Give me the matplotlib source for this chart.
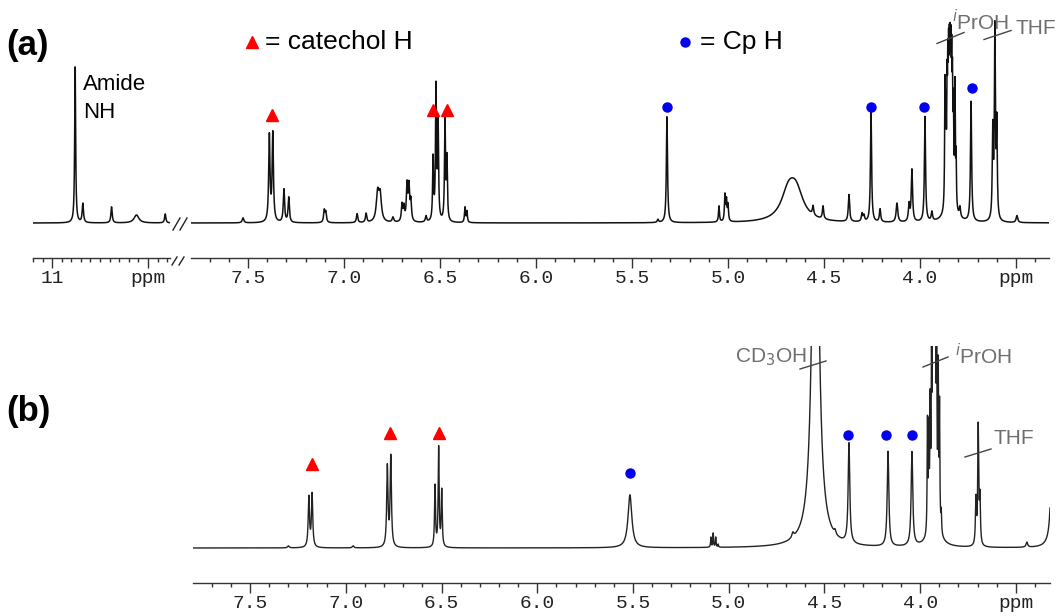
import numpy as np
import matplotlib.pyplot as plt
from matplotlib.ticker import FixedLocator, FixedFormatter, MultipleLocator

W, H = 1056, 616

# ---- panel (a), left piece 11 - 10.4 ppm: position, height, half width
a_left_ppm = [10.88, 10.84, 10.69, 10.56, 10.41]
a_left_int = [156, 19, 16, 8, 9]
a_left_hw = [0.003, 0.004, 0.004, 0.015, 0.004]

# ---- panel (a), main piece 7.8 - 3.3 ppm
a_ppm = [7.526, 7.389, 7.371, 7.313, 7.288, 7.103, 7.095, 6.932, 6.885,
         6.825, 6.812, 6.745, 6.698, 6.688, 6.672, 6.662, 6.652, 6.573,
         6.536, 6.521, 6.510, 6.474, 6.464, 6.370, 6.360, 5.365, 5.318,
         5.047, 5.016, 5.008, 5.000, 4.685, 4.645, 4.557, 4.505, 4.370,
         4.302, 4.292, 4.255, 4.208, 4.120, 4.057, 4.042, 3.974, 3.938,
         3.870, 3.865, 3.859, 3.855, 3.851, 3.847, 3.843, 3.839, 3.835,
         3.831, 3.826, 3.818, 3.812, 3.842, 3.792,
         3.734, 3.621, 3.610, 3.600, 3.495]
a_int = [5, 86, 88, 33, 25, 12, 10, 9, 9,
         28, 26, 5, 17, 14, 36, 34, 20, 6,
         62, 132, 96, 101, 61, 15, 11, 3, 106,
         16, 26, 20, 16, 27, 27, 9, 13, 27,
         8, 6, 110, 13, 19, 17, 52, 105, 9,
         118, 85, 100, 105, 108, 108, 108, 108, 105,
         95, 85, 118, 50, 26, 10,
         120, 88, 188, 93, 7]
a_hw = [0.005, 0.004, 0.004, 0.004, 0.004, 0.004, 0.004, 0.004, 0.004,
        0.008, 0.008, 0.005, 0.004, 0.004, 0.004, 0.004, 0.004, 0.004,
        0.003, 0.003, 0.003, 0.003, 0.003, 0.003, 0.003, 0.004, 0.0035,
        0.003, 0.003, 0.003, 0.003, 0.045, 0.045, 0.004, 0.004, 0.004,
        0.004, 0.004, 0.0035, 0.004, 0.005, 0.004, 0.004, 0.0035, 0.004,
        0.002, 0.002, 0.002, 0.002, 0.002, 0.002, 0.002, 0.002, 0.002,
        0.002, 0.002, 0.002, 0.002, 0.02, 0.004,
        0.0035, 0.003, 0.003, 0.003, 0.005]

# ---- panel (b)
b_ppm = [7.30, 7.193, 7.176, 6.962, 6.783, 6.765, 6.534, 6.515, 6.499,
         5.516, 5.093, 5.081, 5.068, 5.055, 4.665, 4.547, 4.445, 4.372,
         4.168, 4.043, 3.962, 3.955, 3.948, 3.941, 3.935, 3.930, 3.925,
         3.920, 3.914, 3.906, 3.899, 3.890, 3.925,
         3.709, 3.697, 3.688, 3.443, 3.305]
b_int = [2, 50, 53, 2, 80, 90, 61, 99, 56,
         53, 10, 14, 10, 3, 5, 527, 4, 100,
         95, 94, 110, 95, 115, 140, 230, 230, 230,
         230, 160, 150, 120, 20, 18,
         45, 118, 45, 5, 500]
b_hw = [0.005, 0.004, 0.004, 0.005, 0.004, 0.004, 0.003, 0.003, 0.003,
        0.012, 0.002, 0.002, 0.002, 0.002, 0.006, 0.0173, 0.005, 0.005,
        0.005, 0.005, 0.002, 0.002, 0.002, 0.002, 0.002, 0.002, 0.002,
        0.002, 0.002, 0.002, 0.002, 0.002, 0.03,
        0.003, 0.003, 0.003, 0.005, 0.005]

# marker positions (ppm, height above baseline)
cat_a_ppm = [7.375, 6.536, 6.464]
cat_a_y = [108, 113, 113]
cp_a_ppm = [5.318, 4.255, 3.979, 3.729]
cp_a_y = [116, 116, 116, 135]
cat_b_ppm = [7.176, 6.769, 6.513]
cat_b_y = [84, 115, 115]
cp_b_ppm = [5.516, 4.377, 4.178, 4.042]
cp_b_y = [75, 113, 113, 113]

RED = '#ff0000'
BLUE = '#0000ee'
GREY = '#6e6e6e'

plt.rcParams['font.family'] = ['Liberation Sans', 'DejaVu Sans']


def spectrum(x, ppm, inten, hw):
    y = np.zeros_like(x)
    for p, h, w in zip(ppm, inten, hw):
        y += h / (1 + ((x - p) / w) ** 2)
    return y


def box(x0, x1, ytop, ybot):
    return [x0 / W, 1 - ybot / H, (x1 - x0) / W, (ybot - ytop) / H]


def style(ax, majors, labels, minor):
    for s in ['top', 'left', 'right']:
        ax.spines[s].set_visible(False)
    ax.spines['bottom'].set_color('#333333')
    ax.spines['bottom'].set_linewidth(1.0)
    ax.set_yticks([])
    ax.xaxis.set_major_locator(FixedLocator(majors))
    ax.xaxis.set_major_formatter(FixedFormatter(labels))
    ax.xaxis.set_minor_locator(MultipleLocator(minor))
    ax.tick_params(axis='x', which='major', length=7, width=1, pad=2,
                   labelsize=14, color='#333333', labelcolor='#222222')
    ax.tick_params(axis='x', which='minor', length=3, width=1, color='#333333')
    for t in ax.get_xticklabels():
        t.set_fontfamily('Liberation Mono')
    ax.patch.set_alpha(0)


fig = plt.figure(figsize=(W / 100, H / 100), dpi=100)

# panel (a) left piece
axL = fig.add_axes(box(33, 170, 20, 258))
x = np.linspace(11.10, 10.385, 4000)
axL.plot(x, spectrum(x, a_left_ppm, a_left_int, a_left_hw), color='#111111', lw=1.1)
axL.set_xlim(11.10, 10.385)
axL.set_ylim(-35, 203)
style(axL, [11.0, 10.5], ['11', 'ppm'], 0.05)

# panel (a) main piece
axA = fig.add_axes(box(191, 1049, 20, 258))
x = np.linspace(7.797, 3.328, 40000)
axA.plot(x, spectrum(x, a_ppm, a_int, a_hw), color='#111111', lw=1.1)
axA.plot(cat_a_ppm, cat_a_y, '^', color=RED, ms=8, ls='none')
axA.plot(cp_a_ppm, cp_a_y, 'o', color=BLUE, ms=6.5, ls='none')
axA.set_xlim(7.797, 3.328)
axA.set_ylim(-35, 203)
style(axA, [7.5, 7.0, 6.5, 6.0, 5.5, 5.0, 4.5, 4.0, 3.5],
      ['7.5', '7.0', '6.5', '6.0', '5.5', '5.0', '4.5', '4.0', 'ppm'], 0.1)

# panel (b)
axB = fig.add_axes(box(193, 1050, 346, 583))
x = np.linspace(7.798, 3.322, 40000)
axB.plot(x, spectrum(x, b_ppm, b_int, b_hw), color='#222222', lw=1.0)
axB.plot(cat_b_ppm, cat_b_y, '^', color=RED, ms=8, ls='none')
axB.plot(cp_b_ppm, cp_b_y, 'o', color=BLUE, ms=6.5, ls='none')
axB.set_xlim(7.798, 3.322)
axB.set_ylim(-35, 202)
style(axB, [7.5, 7.0, 6.5, 6.0, 5.5, 5.0, 4.5, 4.0, 3.5],
      ['7.5', '7.0', '6.5', '6.0', '5.5', '5.0', '4.5', '4.0', 'ppm'], 0.1)

# overlay in pixel units for labels, leader lines and break marks
ov = fig.add_axes([0, 0, 1, 1])
ov.set_xlim(0, W)
ov.set_ylim(H, 0)
ov.axis('off')
ov.patch.set_alpha(0)

ov.text(6, 45, '(a)', fontsize=25, fontweight='bold', ha='left', va='center')
ov.text(6, 411, '(b)', fontsize=25, fontweight='bold', ha='left', va='center')

ov.plot([252], [42], '^', color=RED, ms=8)
ov.text(265, 42, '= catechol H', fontsize=19, ha='left', va='center')
ov.plot([685], [42], 'o', color=BLUE, ms=6.5)
ov.text(700, 42, '= Cp H', fontsize=19, ha='left', va='center')

ov.text(83, 84, 'Amide', fontsize=16, ha='left', va='center')
ov.text(83, 113, 'NH', fontsize=16, ha='left', va='center')

lab = dict(fontsize=15, color=GREY, ha='left', va='center')
ov.text(952, 22, r'$^{i}$PrOH', **lab)
ov.plot([937, 964], [43.5, 32.5], color='#444444', lw=1)
ov.text(1016, 28, 'THF', **lab)
ov.plot([984, 1011], [39.5, 30.5], color='#444444', lw=1)

ov.text(735, 357, r'CD$_3$OH', **lab)
ov.plot([800, 826], [369, 361], color='#444444', lw=1)
ov.text(955, 356, r'$^{i}$PrOH', **lab)
ov.plot([923, 948], [367, 357], color='#444444', lw=1)
ov.text(993, 439, 'THF', **lab)
ov.plot([965, 991], [457, 449], color='#444444', lw=1)

# break marks between the two pieces of (a)
for dx in [0, 7]:
    ov.plot([173 + dx, 180 + dx], [230, 218], color='#222222', lw=1)
    ov.plot([172 + dx, 177 + dx], [265, 257], color='#222222', lw=1)

fig.savefig('out.png', dpi=100)
